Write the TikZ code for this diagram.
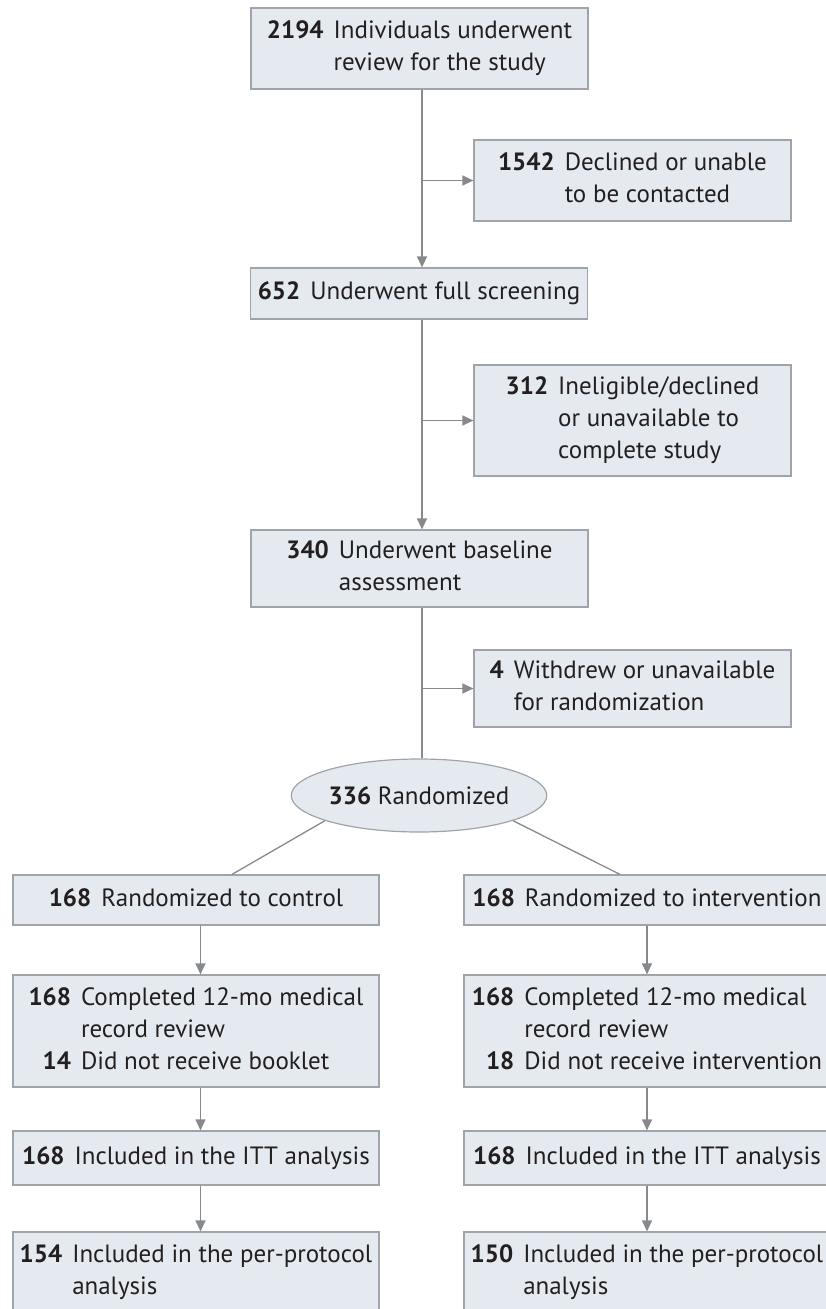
\documentclass[tikz,border=0pt]{standalone}
\usepackage{fontspec}
\setmainfont{PT Sans}
\usepackage{tikz}
\usetikzlibrary{arrows.meta,shapes.geometric}
\definecolor{boxfill}{RGB}{228,234,239}
\definecolor{boxline}{RGB}{160,164,168}
\definecolor{arrline}{RGB}{135,138,141}
\definecolor{txt}{RGB}{35,31,32}
\newcommand\cnt[1]{\textbf{#1}}
\newcommand\flowfont{\fontsize{25}{32}\selectfont}

\begin{document}
\begin{tikzpicture}[
x=1pt,y=-1pt,
flowbox/.style={draw=boxline,fill=boxfill,line width=1.2pt,text=txt,inner sep=0pt,font=\flowfont,align=left},
mainbox/.style={flowbox,minimum width=337pt},
sidebox/.style={flowbox,minimum width=317pt},
armbox/.style={flowbox,minimum width=366pt},
randell/.style={flowbox,ellipse,minimum width=244pt,minimum height=73pt},
arr/.style={draw=arrline,line width=1.3pt,-{Triangle[length=11pt,width=10pt]}},
link/.style={draw=arrline,line width=1.3pt}
]
\useasboundingbox (0,0) rectangle (825,1309);

% main column
\node[mainbox,minimum height=81pt] (review) at (419.5,48.5)
  {\begin{tabular}{@{}r@{\hspace{0.4em}}l@{}}\cnt{2194} & Individuals underwent\\ & review for the study\end{tabular}};
\node[sidebox,minimum height=81pt] (decl) at (632.5,180.5)
  {\begin{tabular}{@{}r@{\hspace{0.4em}}l@{}}\cnt{1542} & Declined or unable\\ & to be contacted\end{tabular}};
\node[mainbox,minimum height=51pt] (screen) at (419,293.5)
  {\begin{tabular}{@{}r@{\hspace{0.4em}}l@{}}\cnt{652} & Underwent full screening\end{tabular}};
\node[sidebox,minimum height=111pt] (inel) at (632.5,420.5)
  {\begin{tabular}{@{}r@{\hspace{0.4em}}l@{}}\cnt{312} & Ineligible/declined\\ & or unavailable to\\ & complete study\end{tabular}};
\node[mainbox,minimum height=77pt] (base) at (419.5,568.5)
  {\begin{tabular}{@{}r@{\hspace{0.4em}}l@{}}\cnt{340} & Underwent baseline\\ & assessment\end{tabular}};
\node[sidebox,minimum height=77pt] (withd) at (632.5,688.5)
  {\begin{tabular}{@{}r@{\hspace{0.4em}}l@{}}\cnt{4} & Withdrew or unavailable\\ & for randomization\end{tabular}};
\node[randell] (rand) at (419,795.5) {\cnt{336} Randomized};

% control arm
\node[armbox,minimum height=50pt] (ctrl) at (196,900)
  {\begin{tabular}{@{}r@{\hspace{0.4em}}l@{}}\cnt{168} & Randomized to control\end{tabular}};
\node[armbox,minimum height=112pt] (compc) at (196,1031)
  {\begin{tabular}{@{}r@{\hspace{0.4em}}l@{}}\cnt{168} & Completed 12-mo medical\\ & record review\\ \cnt{14} & Did not receive booklet\end{tabular}};
\node[armbox,minimum height=54pt] (ittc) at (196,1158)
  {\begin{tabular}{@{}r@{\hspace{0.4em}}l@{}}\cnt{168} & Included in the ITT analysis\end{tabular}};
\node[armbox,minimum height=80pt] (ppc) at (196,1272)
  {\begin{tabular}{@{}r@{\hspace{0.4em}}l@{}}\cnt{154} & Included in the per-protocol\\ & analysis\end{tabular}};

% intervention arm
\node[armbox,minimum height=50pt] (intv) at (647,900)
  {\begin{tabular}{@{}r@{\hspace{0.4em}}l@{}}\cnt{168} & Randomized to intervention\end{tabular}};
\node[armbox,minimum height=112pt] (compi) at (647,1031)
  {\begin{tabular}{@{}r@{\hspace{0.4em}}l@{}}\cnt{168} & Completed 12-mo medical\\ & record review\\ \cnt{18} & Did not receive intervention\end{tabular}};
\node[armbox,minimum height=54pt] (itti) at (647,1158)
  {\begin{tabular}{@{}r@{\hspace{0.4em}}l@{}}\cnt{168} & Included in the ITT analysis\end{tabular}};
\node[armbox,minimum height=80pt] (ppi) at (647,1272)
  {\begin{tabular}{@{}r@{\hspace{0.4em}}l@{}}\cnt{150} & Included in the per-protocol\\ & analysis\end{tabular}};

% connectors
\draw[arr] ([xshift=2.5pt]review.south) -- ([xshift=3pt]screen.north);
\draw[arr] ([xshift=2.5pt]review.south |- decl.west) -- (decl.west);
\draw[arr] ([xshift=3pt]screen.south) -- ([xshift=2.5pt]base.north);
\draw[arr] ([xshift=3pt]screen.south |- inel.west) -- (inel.west);
\draw[link] ([xshift=2.5pt]base.south) -- ([xshift=3pt]rand.north);
\draw[arr] ([xshift=2.5pt]base.south |- withd.west) -- (withd.west);
\draw[link] (rand.195) -- ([xshift=36pt]ctrl.north);
\draw[link] (rand.345) -- ([xshift=-27pt]intv.north);
\draw[arr] ([xshift=4.5pt]ctrl.south) -- ([xshift=4.5pt]compc.north);
\draw[arr] ([xshift=4.5pt]compc.south) -- ([xshift=4.5pt]ittc.north);
\draw[arr] ([xshift=4.5pt]ittc.south) -- ([xshift=4.5pt]ppc.north);
\draw[arr] (intv) -- (compi);
\draw[arr] (compi) -- (itti);
\draw[arr] (itti) -- (ppi);

\end{tikzpicture}
\end{document}
